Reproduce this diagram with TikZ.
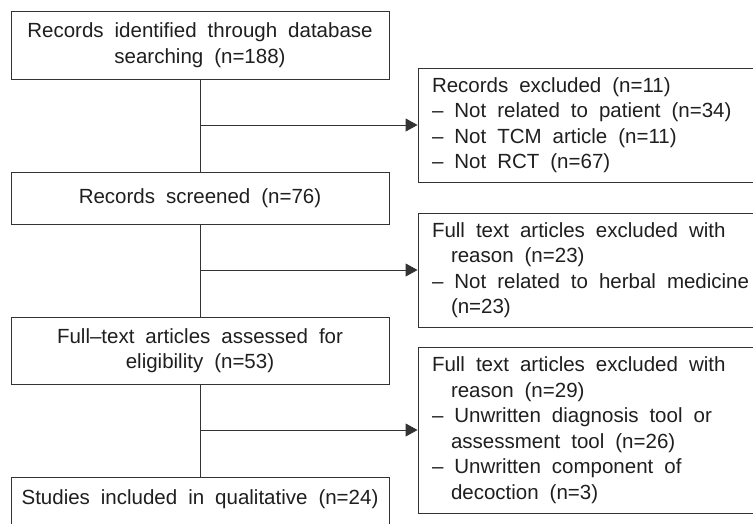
\documentclass[tikz,border=0pt]{standalone}
\usepackage{fontspec}
\setmainfont{Liberation Sans}
\usetikzlibrary{arrows.meta}
\newcommand\ws{\hspace{11pt}}
\newcommand\hang{\hspace*{19pt}}
\begin{document}
\begin{tikzpicture}[x=1pt,y=-1pt,
  every node/.style={font=\fontsize{20.5}{25.5}\selectfont, text=black!88},
  lbox/.style={draw=black!80, line width=0.9pt, minimum width=378pt, inner sep=0pt, align=center, text width=370pt},
  rbox/.style={draw=black!80, line width=0.9pt, minimum width=368pt, inner sep=0pt, align=left, text width=340pt},
  link/.style={draw=black!80, line width=0.9pt},
  arr/.style={link, -{Triangle[length=12pt,width=13pt]}}]
\useasboundingbox (0,0) rectangle (753,523);
\clip (0,0) rectangle (753,523);
\fill[white] (0,0) rectangle (753,523);
% left column
\node[lbox, minimum height=68pt] (L1) at (200,45) {Records\ws identified\ws through\ws database\\searching\ws (n=188)};
\node[lbox, minimum height=52pt] (L2) at (200,198) {Records\ws screened\ws (n=76)};
\node[lbox, minimum height=67pt] (L3) at (200,350.5) {Full–text\ws articles\ws assessed\ws for\\eligibility\ws (n=53)};
\node[lbox, minimum height=53pt, text height=10pt, text depth=9pt] (L4) at (200,503.5) {Studies\ws included\ws in\ws qualitative\ws (n=24)};
% right column
\node[rbox, minimum height=114pt] (R1) at (602,125) {Records\ws excluded\ws (n=11)\\–\ws Not\ws related\ws to\ws patient\ws (n=34)\\–\ws Not\ws TCM\ws article\ws (n=11)\\–\ws Not\ws RCT\ws (n=67)};
\node[rbox, minimum height=114pt] (R2) at (602,270) {Full\ws text\ws articles\ws excluded\ws with\\\hang reason\ws (n=23)\\–\ws Not\ws related\ws to\ws herbal\ws medicine\\\hang (n=23)};
\node[rbox, minimum height=166pt] (R3) at (602,430) {Full\ws text\ws articles\ws excluded\ws with\\\hang reason\ws (n=29)\\–\ws Unwritten\ws diagnosis\ws tool\ws or\\\hang assessment\ws tool\ws (n=26)\\–\ws Unwritten\ws component\ws of\\\hang decoction\ws (n=3)};
% trunk
\draw[link] (L1) -- (L2);
\draw[link] (L2) -- (L3);
\draw[link] (L3) -- (L4);
% branches
\coordinate (b1) at (200,125);
\coordinate (b2) at (200,270);
\coordinate (b3) at (200,430);
\draw[arr] (b1) -- (R1.west);
\draw[arr] (b2) -- (R2.west);
\draw[arr] (b3) -- (R3.west);
\end{tikzpicture}
\end{document}
